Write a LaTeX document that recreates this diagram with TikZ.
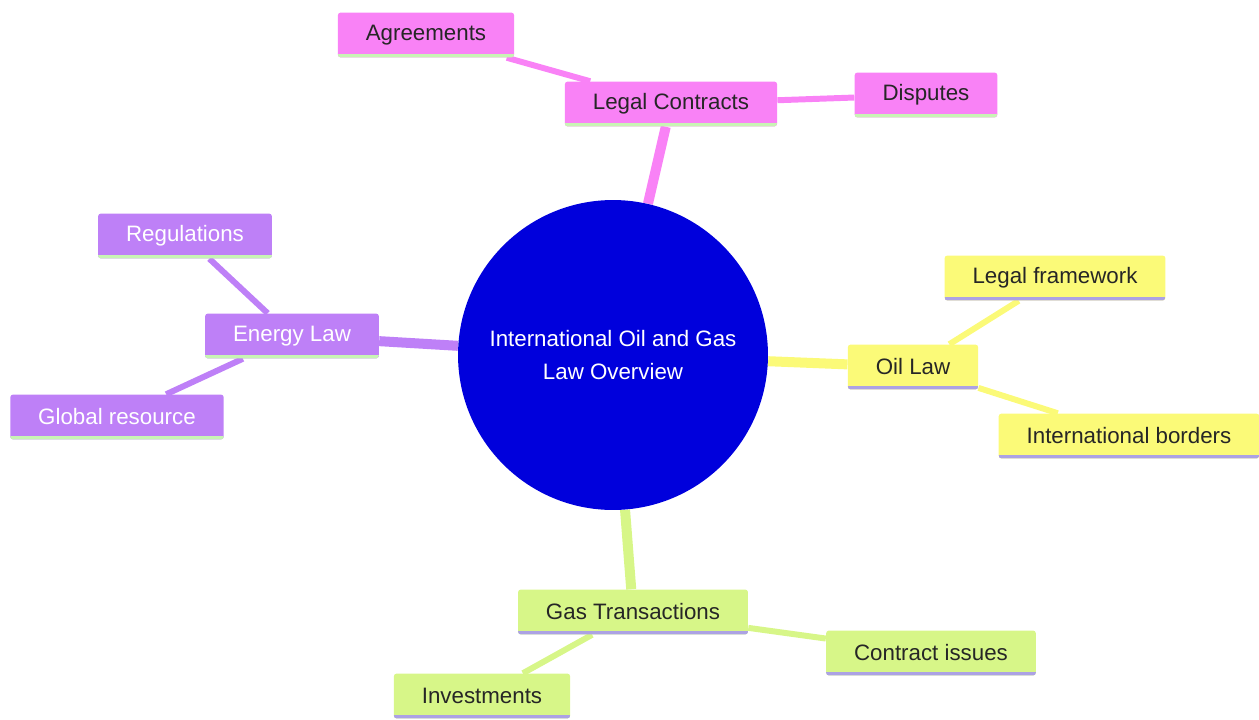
\documentclass[tikz,border=0pt]{standalone}
\usepackage{fontspec}
\setmainfont{Liberation Sans}
\usetikzlibrary{backgrounds}

\definecolor{pinkc}{RGB}{249,130,246}
\definecolor{purplec}{RGB}{190,128,247}
\definecolor{yellowc}{RGB}{251,250,120}
\definecolor{greenc}{RGB}{215,246,136}
\definecolor{ublue}{RGB}{0,0,220}
\definecolor{ulgreen}{RGB}{200,244,180}
\definecolor{ullav}{RGB}{172,162,228}

\begin{document}
\begin{tikzpicture}[x=0.02cm,y=-0.02cm,
    box/.style={rounded corners=1.5pt,minimum height=25.5pt,inner xsep=15.9pt,
        font=\fontsize{12.7}{15}\selectfont},
    ul/.style={path picture={\draw[#1,line width=3.4pt]
        (path picture bounding box.south west)--(path picture bounding box.south east);}},
    lcbox/.style={box,fill=pinkc,text=black!85,ul=ulgreen},
    elbox/.style={box,fill=purplec,text=white,ul=ulgreen},
    olbox/.style={box,fill=yellowc,text=black!85,ul=ullav},
    gtbox/.style={box,fill=greenc,text=black!85,ul=ullav},
    main/.style={line width=5.7pt},
    leaf/.style={line width=3.4pt}]
\useasboundingbox (0,0) rectangle (1259,720);

\node[circle,fill=ublue,minimum size=6.2cm,text=white,align=center,
    font=\fontsize{12.7}{19.3}\selectfont] (c) at (613,355)
    {International Oil and Gas\\Law Overview};

\node[lcbox] (lc) at (671,104) {Legal Contracts};
\node[lcbox] (ag) at (426,35) {Agreements};
\node[lcbox] (di) at (926,95) {Disputes};

\node[elbox] (el) at (292,336) {Energy Law};
\node[elbox] (re) at (185,236) {Regulations};
\node[elbox] (gr) at (117,417) {Global resource};

\node[olbox] (ol) at (913,367) {Oil Law};
\node[olbox] (lf) at (1055,278) {Legal framework};
\node[olbox] (ib) at (1129,436) {International borders};

\node[gtbox] (gt) at (633,612) {Gas Transactions};
\node[gtbox] (ci) at (931,653) {Contract issues};
\node[gtbox] (in) at (482,696) {Investments};

\begin{scope}[on background layer]
    \draw[main,pinkc] (c)--(lc);
    \draw[leaf,pinkc] (lc)--(ag);
    \draw[leaf,pinkc] (lc)--(di);
    \draw[main,purplec] (c)--(el);
    \draw[leaf,purplec] (el)--(re);
    \draw[leaf,purplec] (el)--(gr);
    \draw[main,yellowc] (c)--(ol);
    \draw[leaf,yellowc] (ol)--(lf);
    \draw[leaf,yellowc] (ol)--(ib);
    \draw[main,greenc] (c)--(gt);
    \draw[leaf,greenc] (gt)--(ci);
    \draw[leaf,greenc] (gt)--(in);
\end{scope}
\end{tikzpicture}
\end{document}
